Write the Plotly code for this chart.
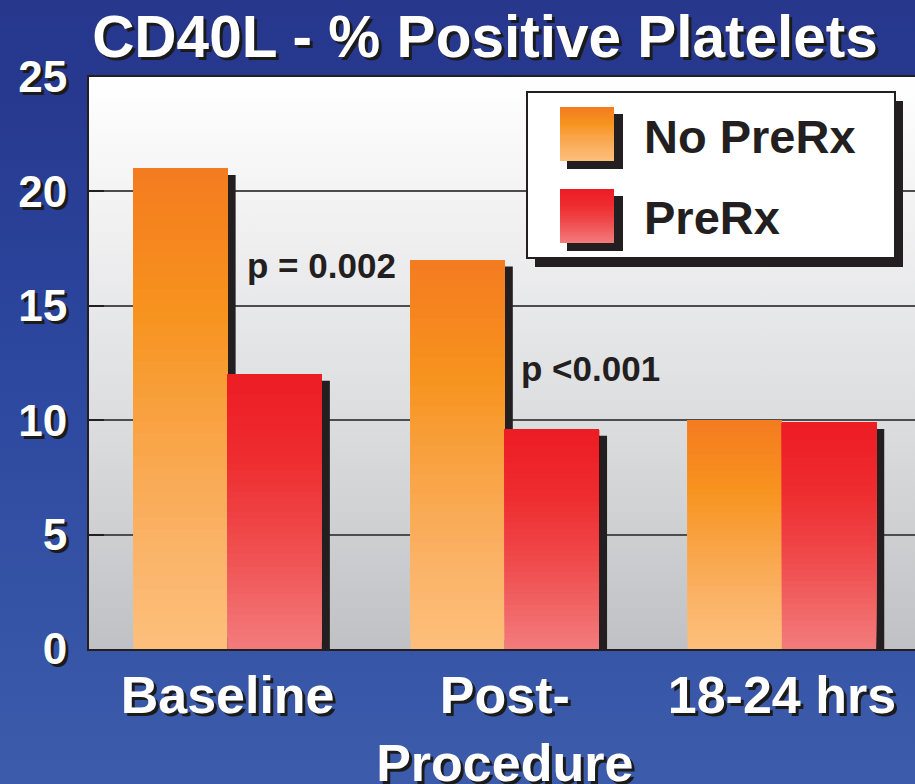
import base64
import plotly.graph_objects as go

# ---------------- data ----------------
categories = ["Baseline", "Post-<br>Procedure", "18-24 hrs"]
series_names = ["No PreRx", "PreRx"]
no_prerx = [21.0, 17.0, 10.0]
prerx = [12.0, 9.6, 9.9]
y_ticks = [0, 5, 10, 15, 20, 25]
p_labels = ["p = 0.002", "p <0.001"]
p_pos_x = [0.34, 1.31]
p_pos_y = [16.75, 12.25]

FONT = "Liberation Sans, Arial, Helvetica, sans-serif"
DARK = "#231F20"
SHADOW = "3px 3px 0px #1b1b1b"

orange_stops = [(0.0, "#F47B20"), (0.3, "#F7931E"), (0.55, "#F9A446"), (0.8, "#FBB469"), (1.0, "#FCBF7B")]
red_stops = [(0.0, "#ED1C24"), (0.3, "#EE2C2F"), (0.55, "#EF4446"), (0.8, "#F16364"), (1.0, "#F37C7D")]

W, H = 915, 784
ML, MR, MT, MB = 89, 0, 77, 135
PW, PH = W - ML - MR, H - MT - MB


def hex2rgb(h):
    h = h.lstrip("#")
    return tuple(int(h[i:i + 2], 16) for i in (0, 2, 4))


def interp(stops, t):
    for (t0, c0), (t1, c1) in zip(stops[:-1], stops[1:]):
        if t0 <= t <= t1:
            f = 0 if t1 == t0 else (t - t0) / (t1 - t0)
            a, b = hex2rgb(c0), hex2rgb(c1)
            r = [round(a[i] + (b[i] - a[i]) * f) for i in range(3)]
            return "rgb(%d,%d,%d)" % tuple(r)
    return stops[-1][1]


def grad_uri(stops):
    st = "".join(f'<stop offset="{o}" stop-color="{c}"/>' for o, c in stops)
    svg = ('<svg xmlns="http://www.w3.org/2000/svg" width="100" height="100" viewBox="0 0 100 100" '
           'preserveAspectRatio="none"><defs><linearGradient id="g" x1="0" y1="0" x2="0" y2="1">'
           f'{st}</linearGradient></defs><rect width="100" height="100" fill="url(#g)"/></svg>')
    return "data:image/svg+xml;base64," + base64.b64encode(svg.encode()).decode()


def px(x):
    return (x - ML) / PW


def py(y):
    return (H - MB - y) / PH


BAR_W = 0.34
offsets = [-BAR_W, 0.0]
series_vals = [no_prerx, prerx]
series_stops = [orange_stops, red_stops]

fig = go.Figure()

# shadows
for vals, off in zip(series_vals, offsets):
    fig.add_trace(go.Bar(
        x=categories, y=[v + 0.09 for v in vals], base=[-0.37] * len(vals),
        width=BAR_W, offset=off + 0.029, marker=dict(color=DARK, line=dict(width=0)),
        cliponaxis=False, showlegend=False, hoverinfo="skip"))

# gradient bars
N = 40
for name, vals, off, stops in zip(series_names, series_vals, offsets, series_stops):
    for k in range(N):
        frac = k / N
        t = 1 - (k + 0.5) / N
        fig.add_trace(go.Bar(
            x=categories, y=[v * (1 - frac) for v in vals], base=[v * frac for v in vals],
            width=BAR_W, offset=off, marker=dict(color=interp(stops, t), line=dict(width=0)),
            name=name, showlegend=False, hoverinfo="skip" if k else None))

# manual legend
shapes = []
shapes.append(dict(type="rect", xref="paper", yref="paper", x0=px(535), x1=px(903), y0=py(267), y1=py(101),
                   fillcolor=DARK, line=dict(width=0)))
shapes.append(dict(type="rect", xref="paper", yref="paper", x0=px(527), x1=px(895), y0=py(258), y1=py(92),
                   fillcolor="white", line=dict(color=DARK, width=2)))
sq_tops = [107, 189]
SQ = 54
for top, stops in zip(sq_tops, series_stops):
    shapes.append(dict(type="rect", xref="paper", yref="paper", x0=px(567), x1=px(567 + SQ + 2),
                       y0=py(top + 8 + SQ), y1=py(top + 7), fillcolor=DARK, line=dict(width=0)))
    NB = 24
    for k in range(NB):
        yt = top + SQ * k / NB
        shapes.append(dict(type="rect", xref="paper", yref="paper", x0=px(560), x1=px(560 + SQ),
                           y0=py(top + SQ), y1=py(yt), fillcolor=interp(stops, (k + 0.5) / NB),
                           line=dict(width=0)))

annotations = []
for name, top in zip(series_names, sq_tops):
    annotations.append(dict(text=f"<b>{name}</b>", xref="paper", yref="paper", x=px(642), y=py(top + SQ / 2 + 2),
                            xanchor="left", yanchor="middle", showarrow=False,
                            font=dict(family=FONT, size=47, color=DARK)))
for lab, xx, yy in zip(p_labels, p_pos_x, p_pos_y):
    annotations.append(dict(text=f"<b>{lab}</b>", x=xx, y=yy, xref="x", yref="y",
                            xanchor="center", yanchor="middle", showarrow=False,
                            font=dict(family=FONT, size=35, color=DARK)))

images = [
    dict(source=grad_uri([(0, "#26378C"), (0.12, "#27398F"), (0.45, "#2C479E"), (1, "#3C5CAB")]),
         xref="paper", yref="paper", x=-ML / PW, y=1 + MT / PH, sizex=W / PW, sizey=H / PH,
         xanchor="left", yanchor="top", sizing="stretch", layer="below"),
    dict(source=grad_uri([(0, "#FFFFFF"), (0.25, "#F1F1F2"), (0.6, "#DCDDDF"), (1, "#BFC1C4")]),
         xref="paper", yref="paper", x=0, y=1, sizex=1, sizey=1,
         xanchor="left", yanchor="top", sizing="stretch", layer="below"),
]

fig.update_layout(
    width=W, height=H, autosize=False,
    margin=dict(l=ML, r=MR, t=MT, b=MB, pad=0, autoexpand=False),
    paper_bgcolor="#2C479E", plot_bgcolor="rgba(0,0,0,0)",
    barmode="overlay", showlegend=False,
    title=dict(text="<b>CD40L - % Positive Platelets</b>", x=485 / W, xanchor="center",
               y=1 - 37 / H, yanchor="middle", automargin=False,
               font=dict(family=FONT, size=58.5, color="white", shadow=SHADOW)),
    xaxis=dict(type="category", range=[-0.5, 2.48], showline=True, linecolor=DARK, linewidth=2,
               mirror=True, ticks="", showgrid=False, ticklabelstandoff=0, automargin=False,
               tickfont=dict(family=FONT, size=52, color="white", weight="bold", shadow=SHADOW)),
    yaxis=dict(range=[0, 25], tickvals=y_ticks, showline=True, linecolor=DARK, linewidth=2,
               ticks="inside", ticklen=15, tickwidth=2, tickcolor=DARK,
               showgrid=True, gridcolor="#4D4D4F", gridwidth=1.5, zeroline=False,
               ticklabelstandoff=11, automargin=False,
               tickfont=dict(family=FONT, size=44, color="white", weight="bold", shadow=SHADOW)),
    shapes=shapes, annotations=annotations, images=images,
)

fig.write_html("out.html", config={"displayModeBar": False},
               post_script="document.body.style.margin='0';document.body.style.padding='0';"
                           "document.body.style.overflow='hidden';")
